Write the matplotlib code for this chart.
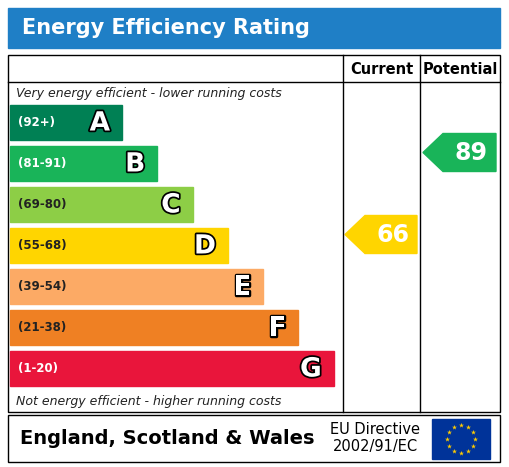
import numpy as np
import matplotlib
matplotlib.use("Agg")
import matplotlib.pyplot as plt
import matplotlib.patheffects as pe
from matplotlib.patches import Rectangle, Polygon

title = "Energy Efficiency Rating"
letters = ["A", "B", "C", "D", "E", "F", "G"]
ranges = ["(92+)", "(81-91)", "(69-80)", "(55-68)", "(39-54)", "(21-38)", "(1-20)"]
lows = [92, 81, 69, 55, 39, 21, 1]
colors = ["#008054", "#19b459", "#8dce46", "#ffd500", "#fcaa65", "#ef8023", "#e9153b"]
current = 66
potential = 89
top_text = "Very energy efficient - lower running costs"
bottom_text = "Not energy efficient - higher running costs"
footer = "England, Scotland & Wales"
directive = "EU Directive\n2002/91/EC"

fig = plt.figure(figsize=(5.09, 4.67), dpi=100)
ax = fig.add_axes([0, 0, 1, 1])
ax.set_xlim(0, 509); ax.set_ylim(467, 0); ax.axis("off")

ax.add_patch(Rectangle((8, 8), 492, 40, color="#1f7fc6"))
ax.text(22, 28, title, color="white", fontsize=15, fontweight="bold", va="center")
ax.add_patch(Rectangle((8, 55), 492, 357, fill=False, lw=1, ec="black"))
ax.plot([8, 500], [82, 82], color="black", lw=1)
ax.plot([343, 343], [55, 412], color="black", lw=1)
ax.plot([420, 420], [55, 412], color="black", lw=1)
ax.text(381.5, 69, "Current", ha="center", va="center", fontsize=10.5, fontweight="bold")
ax.text(460, 69, "Potential", ha="center", va="center", fontsize=10.5, fontweight="bold")
ax.text(16, 94, top_text, fontsize=9, style="italic", va="center", color="#222")
ax.text(16, 401, bottom_text, fontsize=9, style="italic", va="center", color="#222")

band_top = 105; band_h = 35; step = 41
centers = []
for i, (L, r, c) in enumerate(zip(letters, ranges, colors)):
    y = band_top + i * step
    w = 112 + 35.3 * i
    ax.add_patch(Rectangle((10, y), w, band_h, color=c))
    ax.text(18, y + band_h / 2, r, fontsize=8.5, fontweight="bold", va="center",
            color="white" if i in (0, 1, 6) else "#222")
    ax.text(10 + w - 12, y + band_h / 2 + 1, L, fontsize=19, fontweight="bold", ha="right",
            va="center", color="white",
            path_effects=[pe.withStroke(linewidth=2.5, foreground="black")])
    centers.append(y + band_h / 2)

def band_of(v):
    for i, lo in enumerate(lows):
        if v >= lo:
            return i
    return len(lows) - 1

def arrow(v, x0, x1):
    i = band_of(v)
    cy = centers[i] - 11
    h = 38
    pts = [(x0, cy), (x0 + 20, cy - h / 2), (x1, cy - h / 2), (x1, cy + h / 2), (x0 + 20, cy + h / 2)]
    ax.add_patch(Polygon(pts, color=colors[i]))
    ax.text(x0 + 24 + (x1 - x0 - 24) / 2, cy + 1, str(v), fontsize=17, fontweight="bold",
            color="white", ha="center", va="center")

arrow(current, 345, 417)
arrow(potential, 423, 496)

ax.add_patch(Rectangle((8, 415), 492, 47, fill=False, lw=1, ec="black"))
ax.text(20, 438, footer, fontsize=14, fontweight="bold", va="center")
ax.text(375, 438, directive, fontsize=10.5, va="center", ha="center", linespacing=1.1)
ax.add_patch(Rectangle((432, 419), 58, 40, color="#003399"))
ang = np.linspace(0, 2 * np.pi, 13)[:-1]
ax.scatter(461 + 14 * np.cos(ang), 439 + 14 * np.sin(ang), marker="*", s=14, color="#ffcc00", lw=0)

fig.savefig("out.png", dpi=100)
